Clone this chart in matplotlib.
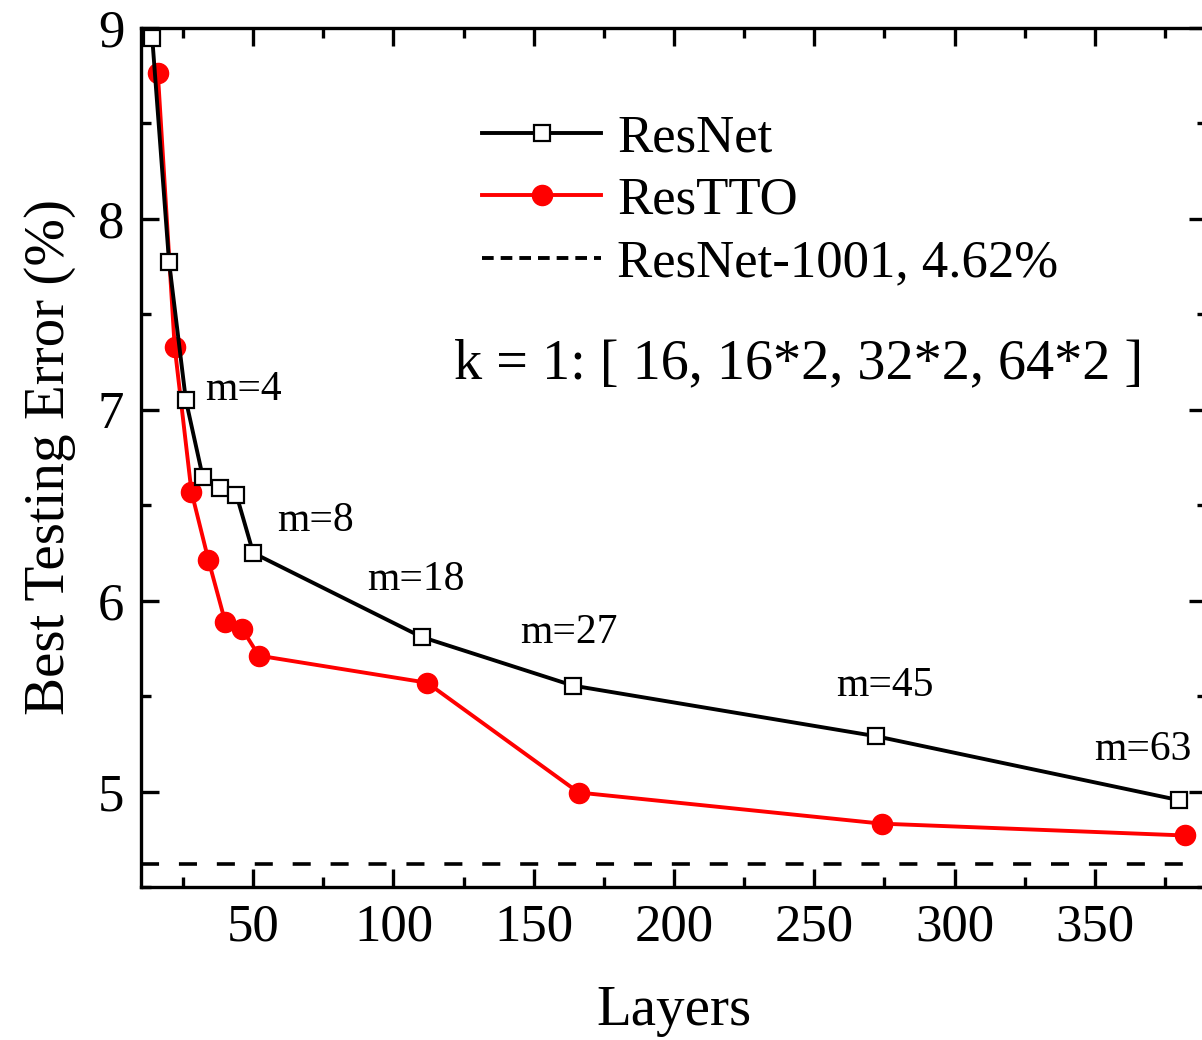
import matplotlib
matplotlib.use("Agg")
import matplotlib.pyplot as plt
from matplotlib.lines import Line2D
from matplotlib.ticker import MultipleLocator

# layers (6m+2) and best test error (%)
resnet_layers = [14, 20, 26, 32, 38, 44, 50, 110, 164, 272, 380]
resnet_err = [8.95, 7.775, 7.05, 6.65, 6.59, 6.555, 6.25, 5.81, 5.555, 5.29, 4.955]

restto_layers = [16, 22, 28, 34, 40, 46, 52, 112, 166, 274, 382]
restto_err = [8.765, 7.33, 6.57, 6.215, 5.89, 5.853, 5.712, 5.57, 4.995, 4.832, 4.77]

baseline_err = 4.62
baseline_label = "ResNet-1001, 4.62%"

m_labels = ["m=4", "m=8", "m=18", "m=27", "m=45", "m=63"]
m_label_x = [32.9, 58.6, 90.7, 145, 257.9, 349.6]
m_label_y = [7.105, 6.42, 6.11, 5.83, 5.555, 5.22]

plt.rcParams["font.family"] = ["Liberation Serif", "DejaVu Serif"]

fig = plt.figure(figsize=(12.02, 10.4), dpi=100)
ax = fig.add_axes([0.1173, 0.1471, 0.8869, 0.826])

ax.axhline(baseline_err, color="black", lw=2.6, dashes=(5, 5.5), zorder=1)
ax.plot(resnet_layers, resnet_err, color="black", lw=2.8, marker="s",
        ms=12, mfc="white", mec="black", mew=1.6, clip_on=False, zorder=3)
ax.plot(restto_layers, restto_err, color="#ff0000", lw=2.8, marker="o",
        ms=14.5, mfc="#ff0000", mec="#ff0000", clip_on=False, zorder=2)

for lab, x, y in zip(m_labels, m_label_x, m_label_y):
    ax.text(x, y, lab, fontsize=30, va="center", ha="left")

ax.text(121.4, 7.236, "k = 1: [ 16, 16*2, 32*2, 64*2 ]", fontsize=40.5,
        va="center", ha="left")

handles = [
    Line2D([], [], color="black", lw=2.8, marker="s", ms=12, mfc="white",
           mec="black", mew=1.6),
    Line2D([], [], color="#ff0000", lw=2.8, marker="o", ms=14.5,
           mfc="#ff0000", mec="#ff0000"),
    Line2D([], [], color="black", lw=2.8, dashes=(3, 1.8)),
]
ax.legend(handles, ["ResNet", "ResTTO", baseline_label], loc="upper left",
          bbox_to_anchor=(0.275, 0.955), frameon=False, fontsize=38,
          handlelength=2.27, handletextpad=0.3, labelspacing=0.28)

ax.set_xlim(10, 390)
ax.set_ylim(4.5, 9)
ax.xaxis.set_major_locator(MultipleLocator(50))
ax.xaxis.set_minor_locator(MultipleLocator(25))
ax.yaxis.set_major_locator(MultipleLocator(1))
ax.yaxis.set_minor_locator(MultipleLocator(0.5))
ax.tick_params(which="both", direction="in", top=True, right=True,
               width=2.4, labelsize=38)
ax.tick_params(which="major", length=13, pad=12)
ax.tick_params(which="minor", length=7)
for sp in ax.spines.values():
    sp.set_linewidth(2.4)

ax.set_xlabel("Layers", fontsize=41, labelpad=24)
ax.set_ylabel("Best Testing Error (%)", fontsize=41, labelpad=16)

fig.savefig("out.png", dpi=100)
